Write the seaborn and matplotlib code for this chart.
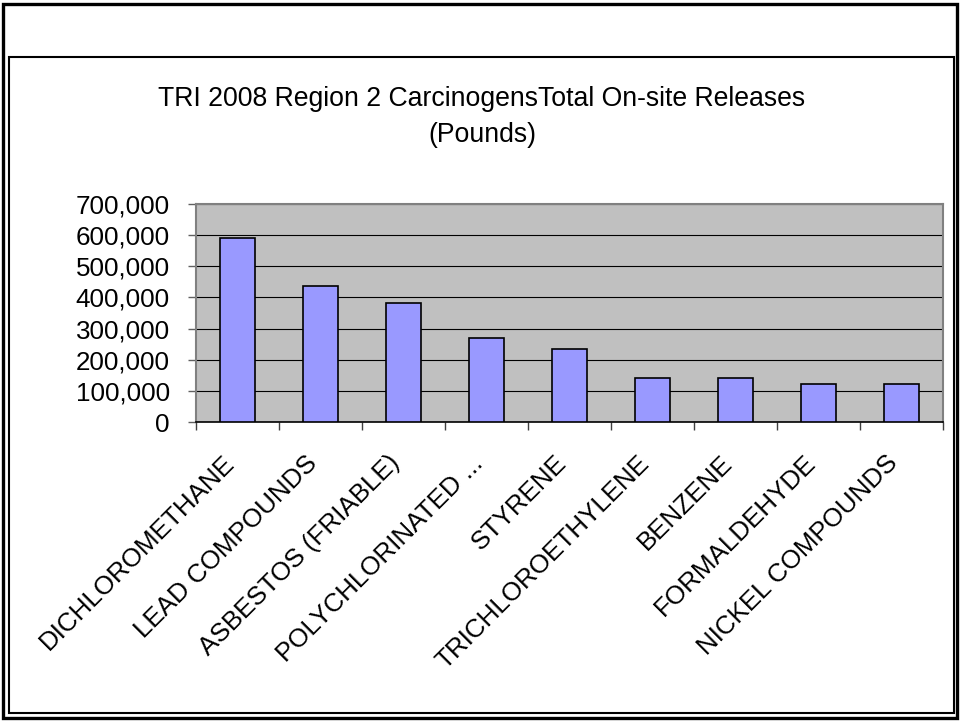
import matplotlib
matplotlib.use("Agg")
import matplotlib.pyplot as plt
import matplotlib.transforms as mtransforms
from matplotlib.patches import Rectangle
from matplotlib.ticker import FuncFormatter, FixedLocator
import seaborn as sns
import pandas as pd

plt.rcParams['font.family'] = ['Liberation Sans', 'DejaVu Sans']

# ---- data ----
categories = ["DICHLOROMETHANE", "LEAD COMPOUNDS", "ASBESTOS (FRIABLE)",
              "POLYCHLORINATED ...", "STYRENE", "TRICHLOROETHYLENE",
              "BENZENE", "FORMALDEHYDE", "NICKEL COMPOUNDS"]
releases = [592000, 437000, 383000, 270000, 236000, 140000, 141000, 123000, 123000]
y_ticks = [0, 100000, 200000, 300000, 400000, 500000, 600000, 700000]
title_line1 = "TRI 2008 Region 2 CarcinogensTotal On-site Releases"
title_line2 = "(Pounds)"

df = pd.DataFrame({"chemical": categories, "pounds": releases})

W, H = 960, 721
fig = plt.figure(figsize=(W / 100, H / 100), dpi=100)
fig.patch.set_facecolor('white')

# plot area in pixel coordinates
left, right, top, bottom = 196, 943, 204, 422
ax = fig.add_axes([left / W, 1 - bottom / H, (right - left) / W, (bottom - top) / H])
ax.set_facecolor('#C0C0C0')

sns.barplot(data=df, x="chemical", y="pounds", color='#9999FF', saturation=1,
            edgecolor='black', linewidth=1.2, width=0.41, ax=ax, zorder=3)

ax.set_xlim(-0.5, len(categories) - 0.5)
ax.set_ylim(0, 700000)
ax.set_yticks(y_ticks)
ax.yaxis.set_major_formatter(FuncFormatter(lambda v, p: f"{int(v):,}"))
ax.set_xlabel("")
ax.set_ylabel("")

# gridlines
ax.yaxis.grid(True, color='black', linewidth=0.8, zorder=1)
ax.set_axisbelow(True)

# spines
for s in ['top', 'right', 'left']:
    ax.spines[s].set_color('#808080')
    ax.spines[s].set_linewidth(1.5)
ax.spines['bottom'].set_color('black')
ax.spines['bottom'].set_linewidth(1.2)

# y ticks
ax.tick_params(axis='y', direction='out', length=5.8, width=1.0, color='#606060',
               pad=13, labelsize=18.7, labelcolor='black')

# x: labels at centers (no tick), ticks at category boundaries
ax.set_xticks(range(len(categories)))
ax.set_xticklabels(categories)
ax.xaxis.set_minor_locator(FixedLocator([i - 0.5 for i in range(len(categories) + 1)]))
ax.tick_params(axis='x', which='major', length=0, pad=27, labelsize=18.7)
ax.tick_params(axis='x', which='minor', direction='out', length=5.8, width=1.0, color='#404040')
offset = mtransforms.ScaledTranslation(-7 / 100, 0, fig.dpi_scale_trans)
for lab in ax.get_xticklabels():
    lab.set_rotation(45)
    lab.set_ha('right')
    lab.set_va('center')
    lab.set_rotation_mode('anchor')
    lab.set_transform(lab.get_transform() + offset)

# title
fig.text(482 / W, 1 - 106 / H, title_line1, ha='center', va='baseline', fontsize=19.2)
fig.text(482 / W, 1 - 142 / H, title_line2, ha='center', va='baseline', fontsize=19.2)

# frames
def rect_px(x0, y0, x1, y1, **kw):
    r = Rectangle((x0 / W, 1 - y1 / H), (x1 - x0) / W, (y1 - y0) / H,
                  transform=fig.transFigure, fill=False, **kw)
    fig.patches.append(r)

rect_px(3, 4, 957, 718, edgecolor='black', linewidth=2.4)
rect_px(9, 56.5, 953.5, 713, edgecolor='black', linewidth=1.5)

fig.savefig("out.png", dpi=100)
